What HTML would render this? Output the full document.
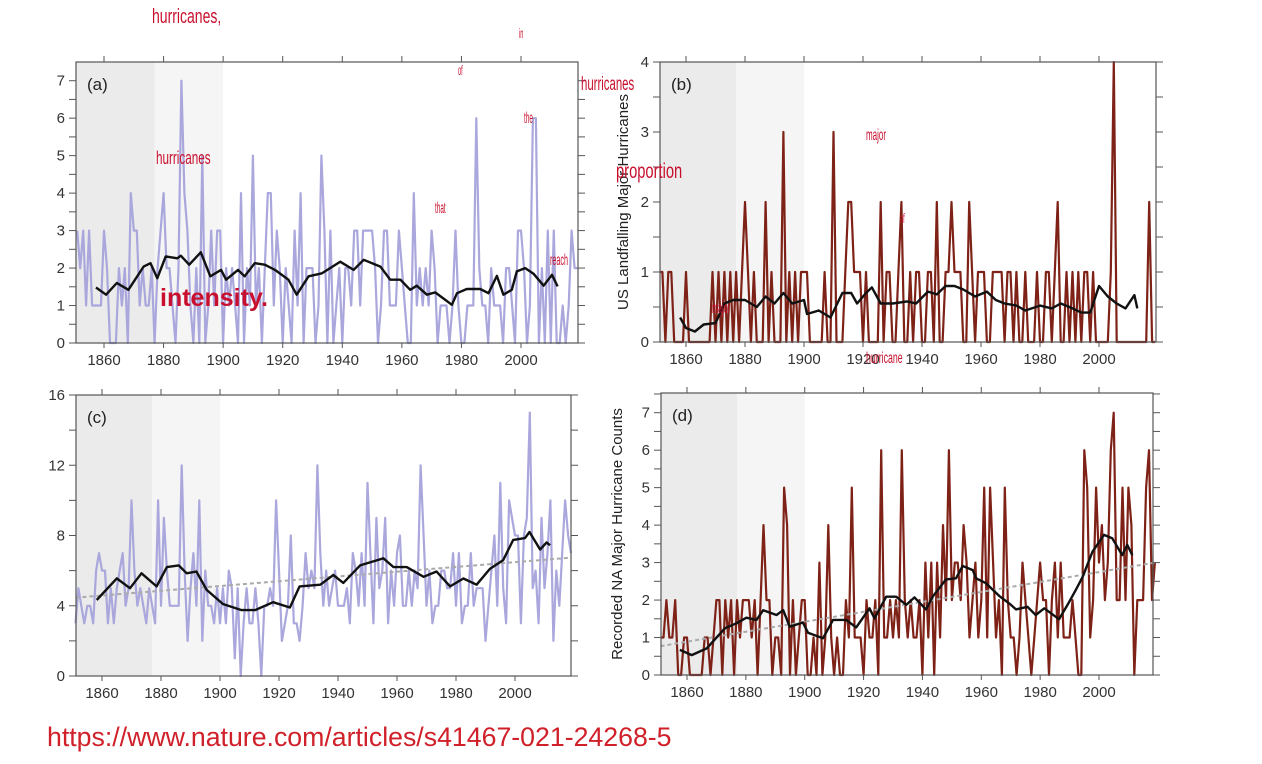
<!DOCTYPE html>
<html><head><meta charset="utf-8"><style>
html,body{margin:0;padding:0;background:#fff;}
body{width:1262px;height:764px;position:relative;overflow:hidden;font-family:"Liberation Sans",sans-serif;}
.ov{position:absolute;color:#c8102e;font-family:"Liberation Sans",sans-serif;white-space:nowrap;}
</style></head><body>
<svg id="chart" width="1262" height="764" style="position:absolute;left:0;top:0" xmlns="http://www.w3.org/2000/svg"></svg>
<div class="ov" style="left:152px;top:6px;font-size:20px;transform:scaleX(0.7);transform-origin:left;">hurricanes,</div>
<div class="ov" style="left:156px;top:148px;font-size:18px;transform:scaleX(0.65);transform-origin:left;">hurricanes</div>
<div class="ov" style="left:160px;top:284px;font-size:25px;font-weight:bold;">intensity.</div>
<div class="ov" style="left:458px;top:62px;font-size:14px;transform:scaleX(0.4);transform-origin:left;">of</div>
<div class="ov" style="left:519px;top:25px;font-size:14px;transform:scaleX(0.4);transform-origin:left;">in</div>
<div class="ov" style="left:524px;top:110px;font-size:16px;transform:scaleX(0.4);transform-origin:left;">the</div>
<div class="ov" style="left:435px;top:200px;font-size:16px;transform:scaleX(0.4);transform-origin:left;">that</div>
<div class="ov" style="left:550px;top:252px;font-size:16px;transform:scaleX(0.45);transform-origin:left;">reach</div>
<div class="ov" style="left:581px;top:74px;font-size:19px;transform:scaleX(0.6);transform-origin:left;">hurricanes</div>
<div class="ov" style="left:616px;top:160px;font-size:21px;transform:scaleX(0.7);transform-origin:left;">proportion</div>
<div class="ov" style="left:866px;top:127px;font-size:16px;transform:scaleX(0.5);transform-origin:left;">major</div>
<div class="ov" style="left:900px;top:210px;font-size:14px;transform:scaleX(0.4);transform-origin:left;">of</div>
<div class="ov" style="left:712px;top:300px;font-size:16px;transform:scaleX(0.45);transform-origin:left;">major</div>
<div class="ov" style="left:866px;top:350px;font-size:16px;transform:scaleX(0.55);transform-origin:left;">hurricane</div>
<div class="ov" style="left:47px;top:722px;font-size:26.7px;color:#d0202a;">https://www.nature.com/articles/s41467-021-24268-5</div>
<script>
// ---- data (years 1851..2019) ----
const startYear = 1851;
const aCounts = [3,2,3,1,3,1,1,1,1,3, 2,0,0,0,2,1,2,0,4,3, 3,1,2,1,1,2,0,2,3,4, 2,2,1,0,2,7,4,3,1,0, 2,0,5,0,1,3,1,3,3,0, 2,1,2,1,0,4,0,2,1,5, 1,2,0,2,4,4,1,3,2,0, 2,1,0,3,1,4,0,2,2,2, 0,1,5,3,0,3,0,1,2,0, 2,2,1,3,3,1,3,3,3,3, 2,0,1,3,3,1,1,1,3,2, 1,0,0,4,1,2,1,2,1,3, 2,0,1,1,1,0,1,3,1,0, 0,1,1,1,6,2,1,1,0,2, 1,1,1,0,2,2,1,0,3,3, 2,0,1,6,6,0,2,0,3,0, 3,0,0,1,0,1,3,2,2];
const aSmoothYears = [1857.3,1860.7,1864.3,1868.2,1873.3,1875.6,1877.9,1880.7,1884.6,1885.8,1888.6,1892.5,1895.7,1899.3,1901,1905,1907.2,1910.6,1914,1917.4,1921.9,1924.7,1928.7,1933.2,1939.3,1943.8,1947.2,1952.8,1956.1,1959.5,1962.8,1965,1968.4,1971.2,1974.6,1976.8,1978.5,1981.8,1986.3,1989.1,1991.9,1994.1,1996.9,1998.6,2001.4,2004.2,2007.6,2010.4,2012.3];
const aSmoothValues = [1.48,1.29,1.6,1.42,2.04,2.13,1.73,2.31,2.26,2.33,2.09,2.42,1.78,1.95,1.69,1.95,1.78,2.13,2.09,1.95,1.69,1.29,1.78,1.86,2.17,1.95,2.22,2.04,1.69,1.69,1.42,1.53,1.29,1.35,1.15,1.02,1.33,1.44,1.44,1.33,1.79,1.29,1.42,1.91,2.0,1.85,1.53,1.82,1.51];

const bCounts = [1,1,0,1,1,0,0,0,0,1, 0,0,0,0,0,0,0,0,1,0, 1,0,1,0,1,0,1,0,1,2, 1,0,1,0,0,0,2,0,1,0, 0,0,3,0,1,0,1,0,1,1, 1,0,0,0,0,0,1,0,0,3, 0,0,0,1,2,2,1,1,1,0, 1,0,0,0,0,2,0,1,1,0, 0,1,2,0,0,1,0,1,1,0, 0,1,1,0,2,0,0,1,1,2, 1,1,1,0,0,2,1,0,1,1, 1,0,0,1,1,1,1,0,1,1, 0,1,0,0,1,0,0,0,1,0, 0,1,1,0,1,2,0,0,1,0, 1,0,1,0,1,1,0,1,0,0, 0,0,0,1,4,0,0,0,0,0, 0,0,0,0,0,0,2,0,0];
const bSmoothYears = [1858,1860,1863,1866,1870,1873,1876,1880,1884,1887,1890,1893,1896,1900,1901,1905,1909,1913,1916,1918,1921,1923,1926,1930,1935,1938,1942,1945,1948,1951,1954,1958,1962,1965,1968,1972,1975,1980,1984,1987,1990,1994,1997,2000,2003,2006,2009,2012,2013];
const bSmoothValues = [0.35,0.2,0.15,0.25,0.27,0.55,0.6,0.6,0.5,0.65,0.55,0.7,0.55,0.6,0.4,0.45,0.35,0.7,0.7,0.55,0.7,0.78,0.55,0.55,0.58,0.55,0.72,0.68,0.8,0.8,0.75,0.65,0.72,0.6,0.55,0.52,0.45,0.52,0.48,0.55,0.5,0.42,0.42,0.8,0.65,0.55,0.48,0.67,0.48];

const cCounts = [3,5,4,3,4,4,3,6,7,6, 6,3,5,3,5,6,7,4,5,10, 6,4,5,4,3,5,4,3,10,4, 9,6,4,4,4,4,12,6,2,5, 7,4,10,2,6,4,4,3,5,3, 5,3,6,5,1,5,0,3,5,3, 3,5,3,0,4,4,5,4,10,6, 2,3,4,8,3,3,2,4,7,5, 6,5,12,7,4,6,4,5,6,4, 4,4,5,3,7,6,4,7,4,11, 7,3,9,5,6,9,3,6,4,7, 8,4,4,6,4,6,5,12,8,4, 6,3,4,4,6,6,5,5,7,4, 7,3,4,4,7,4,5,5,5,2, 4,6,8,4,11,5,3,10,9,8, 8,3,8,9,15,5,6,3,9,5, 7,10,2,6,4,7,10,8,7];
const cSmoothYears = [1858.2,1865,1869.5,1873.4,1878.5,1882,1886,1888.7,1892,1895.5,1901,1907.3,1911.9,1918,1923.7,1927,1934,1938.4,1941.8,1947.5,1955.4,1958.8,1963.3,1969,1973.4,1978,1982.5,1987,1991.5,1996,1999.4,2003.4,2004.9,2008.5,2010.7,2011.9];
const cSmoothValues = [4.33,5.56,5.0,5.85,5.1,6.2,6.3,5.85,5.95,4.9,4.1,3.75,3.75,4.2,3.9,5.1,5.2,5.75,5.3,6.3,6.7,6.2,6.2,5.65,5.95,5.1,5.55,5.2,6.1,6.6,7.75,7.85,8.2,7.2,7.6,7.45];
const cTrendYears = [1851,2019];
const cTrendValues = [4.46,6.74];

const dCounts = [1,1,2,1,1,2,0,0,1,1, 0,0,0,0,0,1,1,0,1,2, 2,0,2,1,2,0,2,1,2,2, 2,1,2,0,2,4,2,2,0,1, 1,0,5,4,0,2,0,1,2,2, 0,0,1,0,3,0,1,4,1,0, 1,0,0,2,1,5,1,1,1,0, 2,1,1,2,0,6,1,1,2,1, 2,1,6,2,1,2,1,1,2,0, 3,1,3,0,3,1,4,2,6,2, 3,3,2,4,3,1,2,3,1,2, 5,1,5,3,1,2,0,5,2,1, 1,0,1,3,2,1,0,1,2,3, 2,2,0,2,3,1,3,1,1,1, 2,1,0,0,6,5,1,2,5,3, 4,2,3,6,7,2,2,5,2,5, 4,0,2,2,2,5,6,2,3];
const dSmoothYears = [1857.6,1861.6,1866.7,1872.9,1876.8,1880.2,1883.6,1885.9,1890.4,1892.7,1894.9,1899.4,1901.1,1906.2,1909.6,1914.1,1917.5,1922,1923.7,1927.7,1931.1,1934.5,1937.3,1941.2,1943.5,1948,1951.4,1953.7,1957.1,1958.2,1961.6,1966.1,1969.5,1971.8,1975.7,1978.5,1981.4,1986.4,1989.3,1992.1,1994.4,1997.8,2001.7,2004.5,2007.9,2009.6,2011.3];
const dSmoothValues = [0.67,0.53,0.71,1.25,1.38,1.53,1.47,1.73,1.6,1.73,1.29,1.4,1.13,0.98,1.47,1.47,1.27,1.78,1.51,2.09,2.09,1.87,2.07,1.75,2.09,2.55,2.58,2.91,2.8,2.58,2.45,2.11,1.91,1.75,1.82,1.6,1.78,1.49,1.87,2.27,2.61,3.29,3.74,3.65,3.2,3.47,3.2];
const dTrendYears = [1851,2019];
const dTrendValues = [0.77,3.0];

const xTickLabels = [1860,1880,1900,1920,1940,1960,1980,2000];
const aYTicks = [0,1,2,3,4,5,6,7];
const bYTicks = [0,1,2,3,4];
const cYTicks = [0,4,8,12,16];
const dYTicks = [0,1,2,3,4,5,6,7];

// ---- rendering ----
const NS = 'http://www.w3.org/2000/svg';
const svg = document.getElementById('chart');
function mk(tag, attrs, parent){
  const e = document.createElementNS(NS, tag);
  for (const k in attrs) e.setAttribute(k, attrs[k]);
  (parent||svg).appendChild(e);
  return e;
}
function panel(cfg){
  const g = mk('g', {});
  
  
  const xs = y => cfg.x1860 + (y - 1860) * (cfg.x2000 - cfg.x1860) / 140;
  const ys = v => cfg.y0 - v * (cfg.y0 - cfg.yTop) / cfg.vTop;
  const L = cfg.frame[0], T = cfg.frame[1], R = cfg.frame[2], B = cfg.frame[3];
  const s1 = mk('rect', {x:L, y:T, width:xs(1877)-L, height:B-T, fill:'#ebebeb'}, g);
  
  
  const s2 = mk('rect', {x:xs(1877), y:T, width:xs(1900)-xs(1877), height:B-T, fill:'#f5f5f5'}, g);
  
  
  let d = '';
  cfg.counts.forEach((v,i) => { d += (i?'L':'M') + xs(startYear+i).toFixed(1) + ',' + ys(v).toFixed(1); });
  const raw = mk('path', {d:d, fill:'none', stroke:cfg.color, 'stroke-width':2.2, 'stroke-linejoin':'round'}, g);
  
  
  if (cfg.trendY){
    const tr = mk('line', {x1:xs(cfg.trendY[0]), y1:ys(cfg.trendV[0]), x2:xs(cfg.trendY[1]), y2:ys(cfg.trendV[1]), stroke:'#aaa', 'stroke-width':2, 'stroke-dasharray':'4,3'}, g);
    
    
  }
  d = '';
  cfg.sY.forEach((y,i) => { d += (i?'L':'M') + xs(y).toFixed(1) + ',' + ys(cfg.sV[i]).toFixed(1); });
  const sm = mk('path', {d:d, fill:'none', stroke:'#111', 'stroke-width':2.4, 'stroke-linejoin':'round'}, g);
  
  
  const fr = mk('rect', {x:L, y:T, width:R-L, height:B-T, fill:'none', stroke:'#555', 'stroke-width':1.2}, g);
  
  
  xTickLabels.forEach(y => {
    const x = xs(y);
    mk('line', {x1:x, y1:T, x2:x, y2:T-6, stroke:'#555', 'stroke-width':1}, g);
    mk('line', {x1:x, y1:B, x2:x, y2:B+5, stroke:'#555', 'stroke-width':1}, g);
    const t = mk('text', {x:x, y:B+22, 'text-anchor':'middle', 'font-size':15, fill:'#333'}, g);
    t.textContent = y;
    
    
  });
  for (let v = 0; v <= cfg.vMax + 1e-9; v += cfg.minor){
    const y = ys(v);
    mk('line', {x1:L, y1:y, x2:L-7, y2:y, stroke:'#555', 'stroke-width':1}, g);
    mk('line', {x1:R, y1:y, x2:R+7, y2:y, stroke:'#555', 'stroke-width':1}, g);
  }
  cfg.yTicks.forEach(v => {
    const t = mk('text', {x:L-11, y:ys(v)+5, 'text-anchor':'end', 'font-size':15, fill:'#333'}, g);
    t.textContent = v;
    
    
  });
  const lab = mk('text', {x:L+11, y:T+28, 'font-size':17, fill:'#222'}, g);
  lab.textContent = '(' + cfg.id + ')';
  
  
  if (cfg.title){
    const cy = (T + B) / 2;
    const tt = mk('text', {x:cfg.titleX, y:cy, 'text-anchor':'middle', 'font-size':15, fill:'#222', transform:'rotate(-90 '+cfg.titleX+' '+cy+')'}, g);
    tt.textContent = cfg.title;
    
    
  }
}
const lav = '#aaa7dd', red = '#7e2217';
panel({id:'a', frame:[76,62,578,343], x1860:104, x2000:521, y0:343, yTop:80.7, vTop:7, vMax:7.4, minor:0.5, yTicks:aYTicks, counts:aCounts, sY:aSmoothYears, sV:aSmoothValues, color:lav});
panel({id:'b', frame:[660,62,1156,342], x1860:686, x2000:1099, y0:342, yTop:62, vTop:4, vMax:4, minor:0.5, yTicks:bYTicks, counts:bCounts, sY:bSmoothYears, sV:bSmoothValues, color:red, title:'US Landfalling Major Hurricanes', titleX:628});
panel({id:'c', frame:[76,395,571,676], x1860:102, x2000:515, y0:676, yTop:395, vTop:16, vMax:16, minor:2, yTicks:cYTicks, counts:cCounts, sY:cSmoothYears, sV:cSmoothValues, trendY:cTrendYears, trendV:cTrendValues, color:lav});
panel({id:'d', frame:[661,393,1153,675], x1860:687, x2000:1099, y0:675, yTop:412.7, vTop:7, vMax:7.5, minor:0.5, yTicks:dYTicks, counts:dCounts, sY:dSmoothYears, sV:dSmoothValues, trendY:dTrendYears, trendV:dTrendValues, color:red, title:'Recorded NA Major Hurricane Counts', titleX:622});
</script>
</body></html>
